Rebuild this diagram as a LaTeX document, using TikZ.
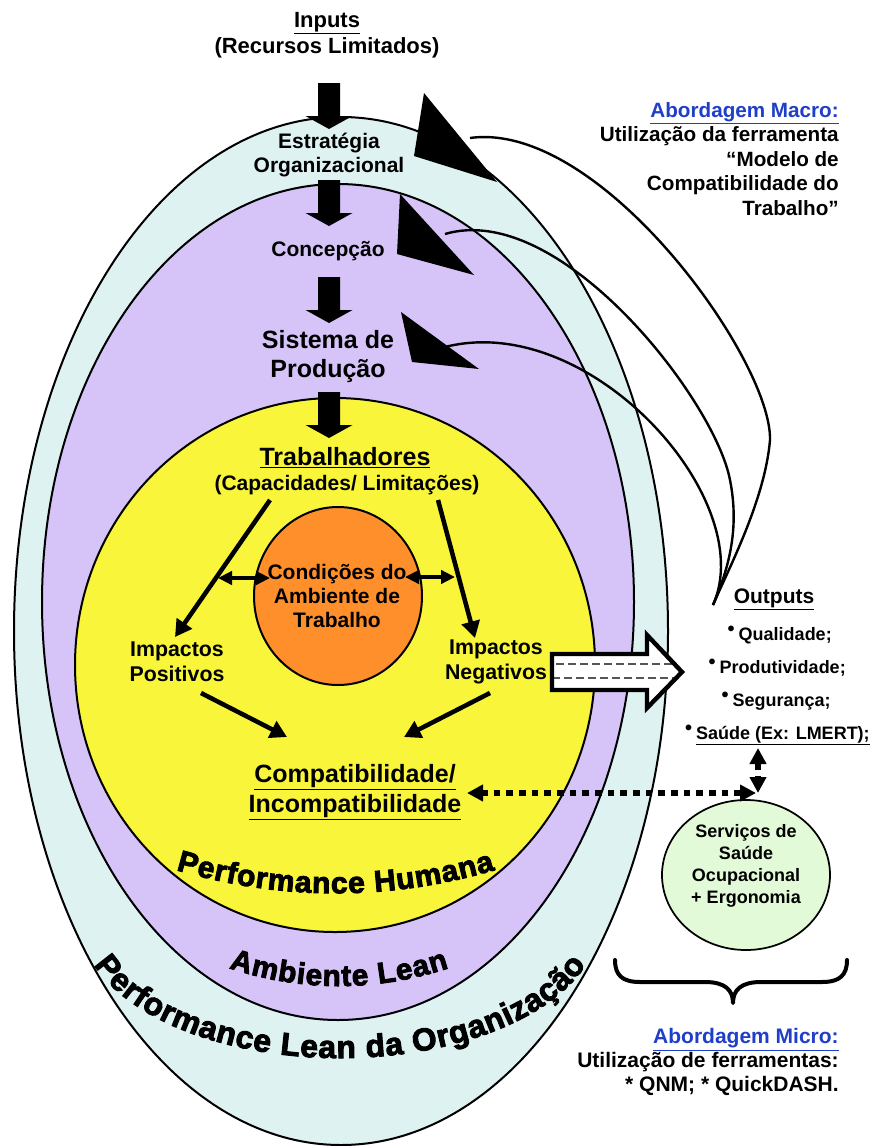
\documentclass[tikz,border=0pt]{standalone}
\usepackage{fontspec}
\setmainfont{Liberation Sans}
\newfontfamily\heavyfont{Liberation Sans}[FakeBold=3]
\usetikzlibrary{arrows.meta,decorations.text,shapes.geometric}

\definecolor{orgcyan}{HTML}{DFF2F2}
\definecolor{leanpurple}{HTML}{D6C4F8}
\definecolor{humanyellow}{HTML}{F9F53A}
\definecolor{condorange}{HTML}{FF8F2A}
\definecolor{saudegreen}{HTML}{E3FAD8}
\definecolor{macroblue}{HTML}{1F3FC8}
\definecolor{dashgray}{HTML}{555555}

\newcommand{\fsz}[2]{\fontsize{#1}{#2}\selectfont}
\newcommand{\bulletmark}{\raisebox{3.6pt}{\fsz{15}{15}•}\hspace{3pt}}

\tikzset{
  downarrow/.pic={\fill (-11,0) -- (-11,33) -- (-23.5,33) -- (0,46) -- (23.5,33) -- (11,33) -- (11,0) -- cycle;},
}

\begin{document}
\begin{tikzpicture}[x=0.75pt, y=-0.75pt,
  zone/.style={ellipse, draw=black, line width=1.5pt, inner sep=0pt},
  lbl/.style={align=center, inner sep=0pt},
  thickarrow/.style={line width=3.4pt, -{Triangle[length=12.5pt,width=13.5pt]}},
  twoway/.style={line width=2.5pt, {Triangle[length=10.5pt,width=10pt]}-{Triangle[length=10.5pt,width=10pt]}},
  feedback/.style={line width=1.8pt},
  dotlink/.style={line width=4.5pt, dash pattern=on 5pt off 4.5pt,
    {Triangle[length=12pt,width=12pt]}-{Triangle[length=12pt,width=12pt]}},
  curvedtitle/.style={decorate, decoration={text along path, text align=fit to path, text={#1}}},
]

\fill[white] (0,0) rectangle (874,1146);
\useasboundingbox (0,0) rectangle (874,1146);

% nested zones
\node[zone, fill=orgcyan, minimum width=490.5pt, minimum height=771pt] (org) at (341,631) {};
\node[zone, fill=leanpurple, minimum width=444pt, minimum height=627pt] (lean) at (338,602) {};
\node[zone, fill=humanyellow, minimum width=390pt, minimum height=400.5pt] (human) at (335,665) {};
\node[zone, fill=condorange, minimum width=126pt, minimum height=133.5pt] (cond) at (338,596) {};

% curved zone titles
\path[curvedtitle={|\heavyfont\bfseries\fsz{22.5}{22.5}|Performance Humana}]
  (176,870) .. controls (282,901) and (389,901) .. (495,870);
\path[curvedtitle={|\heavyfont\bfseries\fsz{22.3}{22.3}|Ambiente Lean}]
  (229,968) .. controls (302,992) and (376,992) .. (449,968);
\path[curvedtitle={|\heavyfont\bfseries\fsz{23.8}{23.8}|Performance Lean da Organização}]
  (94,964.7) arc[start angle=198.9, end angle=341.1, x radius=195pt, y radius=103.5pt];

% main flow
\node[lbl, font=\bfseries\fsz{16.5}{19.5}] (inputs) at (327,35) {\underline{Inputs}\\(Recursos Limitados)};
\pic (a1) at (329,83) {downarrow};
\node[lbl, font=\bfseries\fsz{15.75}{18}] (estr) at (329,155) {Estratégia\\Organizacional};
\pic (a2) at (329,180) {downarrow};
\node[lbl, font=\bfseries\fsz{15.75}{18}] (conc) at (328,251) {Concepção};
\pic (a3) at (329,277) {downarrow};
\node[lbl, font=\bfseries\fsz{18.75}{21.75}] (sist) at (328,357) {Sistema de\\Produção};
\pic (a4) at (329,392) {downarrow};

\node[lbl, font=\bfseries\fsz{18.75}{21}] (trab) at (345,458) {\underline{Trabalhadores}};
\node[lbl, font=\bfseries\fsz{15.75}{18}] (capac) at (347,485) {(Capacidades/ Limitações)};
\node[lbl, font=\bfseries\fsz{15.75}{18}] (condtxt) at (337,596) {Condições do\\Ambiente de\\Trabalho};
\node[lbl, font=\bfseries\fsz{16}{18.75}] (pos) at (177,662) {Impactos\\Positivos};
\node[lbl, font=\bfseries\fsz{16}{18.75}] (neg) at (496,662) {Impactos\\Negativos};
\node[lbl, font=\bfseries\fsz{18.75}{22.5}] (compat) at (355,792) {\underline{Compatibilidade/}\\\underline{Incompatibilidade}};

% arrows inside the human performance zone
\coordinate (tA) at (270,500); \coordinate (pA) at (175,637);
\coordinate (tB) at (438,500); \coordinate (nB) at (475,638);
\coordinate (lA) at (218,578); \coordinate (lB) at (270,578);
\coordinate (rA) at (405,577); \coordinate (rB) at (455,577);
\coordinate (pC) at (201,693); \coordinate (nC) at (490,693);
\coordinate (cL) at (287,737); \coordinate (cR) at (404,737);
\draw[thickarrow] (tA) -- (pA);
\draw[thickarrow] (tB) -- (nB);
\draw[twoway] (lA) -- (lB);
\draw[twoway] (rA) -- (rB);
\draw[thickarrow] (pC) -- (cL);
\draw[thickarrow] (nC) -- (cR);

% hollow block arrow towards the outputs
\begin{scope}
  \path[clip] (552,654) -- (647,654) -- (647,635) -- (682,672) -- (647,708) -- (647,690) -- (552,690) -- cycle;
  \fill[white] (540,620) rectangle (690,720);
  \draw[dashgray, line width=1.5pt, dash pattern=on 6pt off 3pt] (556,664) -- (690,664);
  \draw[dashgray, line width=1.5pt, dash pattern=on 6pt off 3pt] (552,678) -- (690,678);
\end{scope}
\draw[line width=3.3pt, line join=miter] (552,654) -- (647,654) -- (647,635) -- (682,672) -- (647,708) -- (647,690) -- (552,690) -- cycle;

% outputs
\node[lbl, font=\bfseries\fsz{15.75}{18}, anchor=base] (outputs) at (774,603) {\underline{Outputs}};
\node[lbl, font=\bfseries\fsz{13.5}{16}, anchor=base east] (q) at (832,640) {\bulletmark Qualidade;};
\node[lbl, font=\bfseries\fsz{13.5}{16}, anchor=base east] (p) at (846,673) {\bulletmark Produtividade;};
\node[lbl, font=\bfseries\fsz{13.5}{16}, anchor=base east] (s) at (831,706) {\bulletmark Segurança;};
\node[lbl, font=\bfseries\fsz{13.5}{16}, anchor=base east] (h) at (870,739) {\bulletmark\underline{Saúde (Ex: LMERT);}};

% occupational health services
\node[zone, fill=saudegreen, line width=1.3pt, minimum width=126pt, minimum height=112.5pt] (sso) at (746,875) {};
\node[lbl, font=\bfseries\fsz{13.5}{16.5}] (ssotxt) at (746,866) {Serviços de\\Saúde\\Ocupacional\\+ Ergonomia};

\coordinate (hTop) at (758,748); \coordinate (hBot) at (758,793);
\coordinate (dR) at (756,793); \coordinate (dL) at (467,793);
\draw[dotlink] (hTop) -- (hBot);
\draw[dotlink] (dR) -- (dL);

% brace and micro approach
\draw[line width=3pt, line cap=round, line join=round]
  (615,960) .. controls (615,975) and (622,982) .. (640,982) -- (705,982)
  .. controls (725,982) and (733,990) .. (733,1003)
  .. controls (733,990) and (741,982) .. (761,982) -- (822,982)
  .. controls (840,982) and (847,975) .. (847,960);
\node[lbl, align=right, anchor=east, font=\bfseries\fsz{15.75}{18}] (micro) at (839,1062)
  {\textcolor{macroblue}{\underline{Abordagem Micro:}}\\Utilização de ferramentas:\\* QNM; * QuickDASH.};

% macro approach with feedback arrows
\node[lbl, align=right, anchor=east, font=\bfseries\fsz{15.5}{18.4}] (macro) at (839,159)
  {\textcolor{macroblue}{\underline{Abordagem Macro:}}\\Utilização da ferramenta\\“Modelo de\\Compatibilidade do\\Trabalho”};

\coordinate (fb) at (713,605);
\coordinate (t1) at (470,138);
\coordinate (t2) at (445,234);
\coordinate (t3) at (445,347);
\draw[feedback] (fb) .. controls (728,570) and (765,500) .. (770,440)
  .. controls (772,360) and (600,120) .. (t1);
\draw[feedback] (fb) .. controls (728,570) and (740,530) .. (730,480)
  .. controls (715,400) and (560,200) .. (t2);
\draw[feedback] (fb) .. controls (760,500) and (590,310) .. (t3);
\fill (424,93) -- (414,156) -- (497,182) -- cycle;
\fill (400,194) -- (397,254) -- (474,275) -- cycle;
\fill (401,312) -- (412,362) -- (479,369) -- cycle;

\end{tikzpicture}
\end{document}
